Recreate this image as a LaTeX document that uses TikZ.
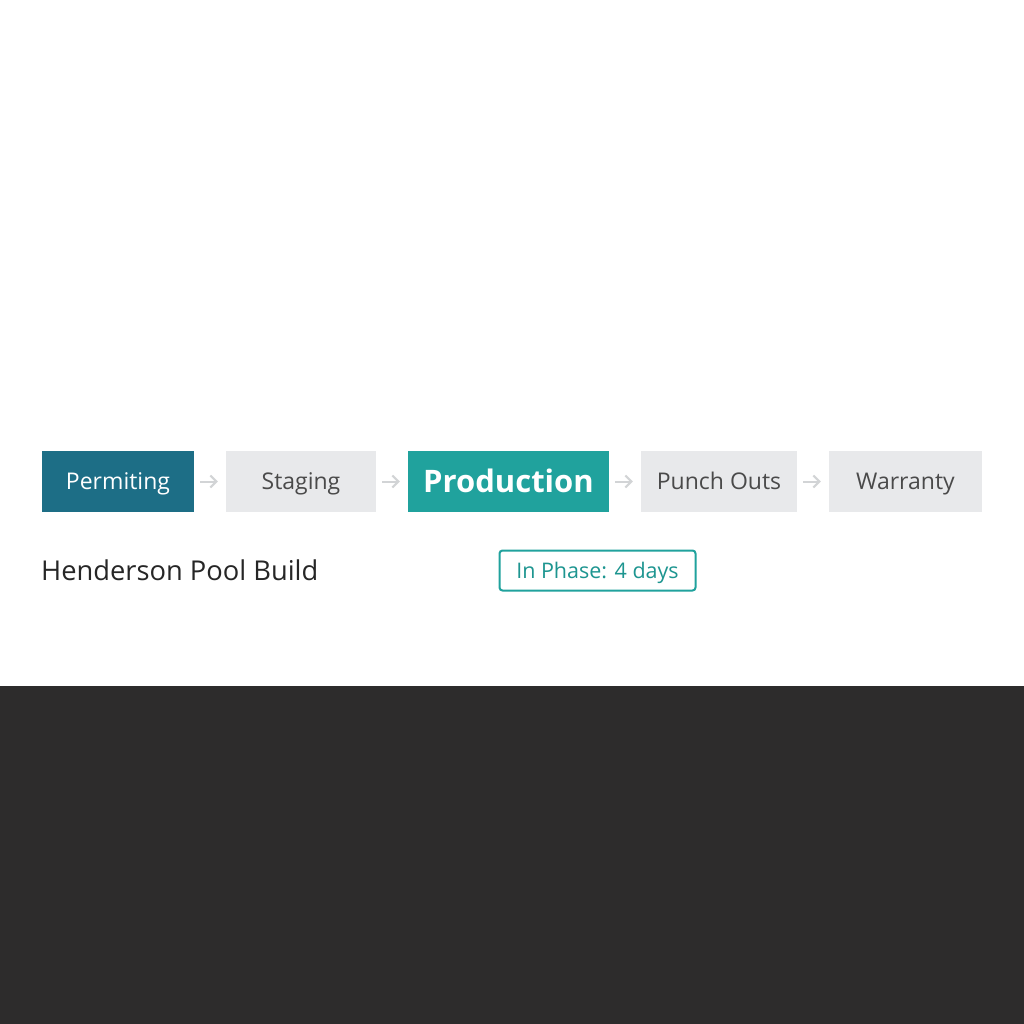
\documentclass[tikz,border=0pt]{standalone}
\usepackage{fontspec}
\setmainfont{Open Sans}
\usetikzlibrary{arrows.meta}
\definecolor{tealdark}{HTML}{1D6E86}
\definecolor{tealmid}{HTML}{20A29D}
\definecolor{boxgray}{HTML}{E8E9EB}
\definecolor{textgray}{HTML}{4A4A4A}
\definecolor{arrowgray}{HTML}{D2D4D6}
\definecolor{darkband}{HTML}{2D2C2C}
\tikzset{
  phase/.style={minimum height=61pt,inner sep=0pt,text height=20pt,text depth=3.6pt,font=\fontsize{23}{28}\selectfont},
  donephase/.style={phase,fill=tealdark,text=white},
  nowphase/.style={phase,fill=tealmid,text=white,text height=26pt,text depth=3.9pt,font=\fontsize{31}{36}\selectfont\bfseries},
  nextphase/.style={phase,fill=boxgray,text=textgray},
  flecha/.style={draw=arrowgray,line width=2pt,-{Straight Barb[length=6pt,width=12pt]},shorten <=6pt,shorten >=8pt},
}
\begin{document}
\begin{tikzpicture}[x=1pt,y=-1pt]
   %fondo
   \useasboundingbox (0,0) rectangle (1024,1024);
   \fill[white] (0,0) rectangle (1024,686);
   \fill[darkband] (0,686) rectangle (1024,1024);

   %fases
   \node[donephase,minimum width=152pt] (perm) at (118,481.5) {Permiting};
   \node[nextphase,minimum width=150pt] (stag) at (301,481.5) {Staging};
   \node[nowphase,minimum width=201pt] (prod) at (508.5,481.5) {Production};
   \node[nextphase,minimum width=156pt] (punch) at (719,481.5) {Punch Outs};
   \node[nextphase,minimum width=153pt] (warr) at (905.5,481.5) {Warranty};

   %flechas
   \draw[flecha] (perm) -- (stag);
   \draw[flecha] (stag) -- (prod);
   \draw[flecha] (prod) -- (punch);
   \draw[flecha] (punch) -- (warr);

   %proyecto
   \node[anchor=west,inner sep=0pt,text=black!85,text height=23pt,text depth=3.5pt,font=\fontsize{27.3}{32}\selectfont] (proj) at (41,570.5) {Henderson Pool Build};
   \node[draw=tealmid,line width=2pt,rounded corners=3pt,text=tealmid!92!black,minimum width=196pt,minimum height=40pt,inner sep=0pt,text height=19pt,text depth=3.6pt,font=\fontsize{21.5}{26}\selectfont] (dias) at (597.5,570.5) {In Phase: 4 days};
\end{tikzpicture}
\end{document}
